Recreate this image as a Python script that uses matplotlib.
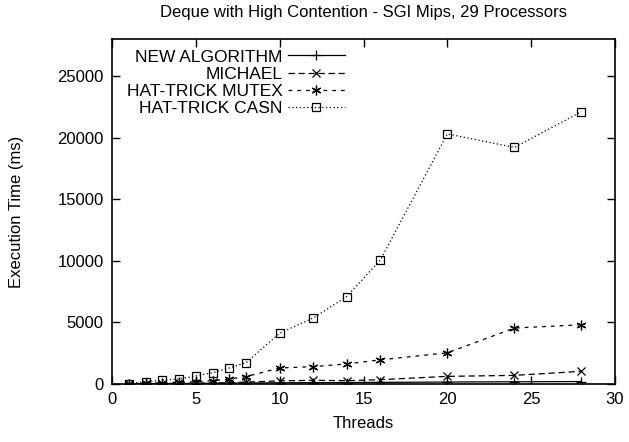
import matplotlib
matplotlib.use("Agg")
import matplotlib.pyplot as plt

plt.rcParams['font.family'] = ['Liberation Sans', 'DejaVu Sans']
plt.rcParams['font.size'] = 12

# data
threads = [1, 2, 3, 4, 5, 6, 7, 8, 10, 12, 14, 16, 20, 24, 28]
new_algorithm = [10, 20, 30, 40, 50, 60, 70, 80, 100, 110, 120, 130, 160, 180, 200]
michael = [15, 30, 40, 50, 60, 80, 100, 160, 250, 300, 270, 350, 620, 700, 1030]
hat_trick_mutex = [20, 50, 100, 140, 190, 270, 410, 600, 1300, 1410, 1630, 1960, 2530, 4540, 4810]
hat_trick_casn = [40, 190, 300, 410, 650, 920, 1300, 1740, 4130, 5350, 7100, 10050, 20300, 19200, 22100]

x_ticks = [0, 5, 10, 15, 20, 25, 30]
y_ticks = [0, 5000, 10000, 15000, 20000, 25000]

fig = plt.figure(figsize=(6.29, 4.42), dpi=100)
ax = fig.add_axes([112 / 629, 1 - 384 / 442, 503 / 629, 345 / 442])

ax.plot(threads, new_algorithm, color='black', lw=0.9, linestyle='-',
        marker='+', markersize=6.5, markeredgewidth=0.9, label='NEW ALGORITHM')
ax.plot(threads, michael, color='black', lw=0.9, linestyle=(0, (5, 3)),
        marker='x', markersize=5.5, markeredgewidth=0.9, label='MICHAEL')
ax.plot(threads, hat_trick_mutex, color='black', lw=0.9, linestyle=(0, (3, 4)),
        marker=(6, 2, 0), markersize=7, markeredgewidth=0.9, label='HAT-TRICK MUTEX')
ax.plot(threads, hat_trick_casn, color='black', lw=0.9, linestyle=(0, (1, 2)),
        marker='s', markersize=5.5, markerfacecolor='none', markeredgewidth=0.9,
        label='HAT-TRICK CASN')

ax.set_xlim(0, 30)
ax.set_ylim(0, 28000)
ax.set_xticks(x_ticks)
ax.set_yticks(y_ticks)
ax.tick_params(direction='in', length=6, width=1, top=True, right=True, pad=6)
for s in ax.spines.values():
    s.set_linewidth(1.2)

ax.set_xlabel('Threads', labelpad=6)
ax.set_ylabel('Execution Time (ms)', labelpad=24)
fig.text(363 / 629, 1 - 13 / 442, 'Deque with High Contention - SGI Mips, 29 Processors',
         ha='center', va='center', fontsize=12)

ax.legend(loc='upper right', bbox_to_anchor=(0.463, 0.97), frameon=False,
          markerfirst=False, handlelength=3.3, handletextpad=0.3,
          labelspacing=0.12, borderpad=0, borderaxespad=0, fontsize=12.5)

fig.savefig('out.png', dpi=100)
